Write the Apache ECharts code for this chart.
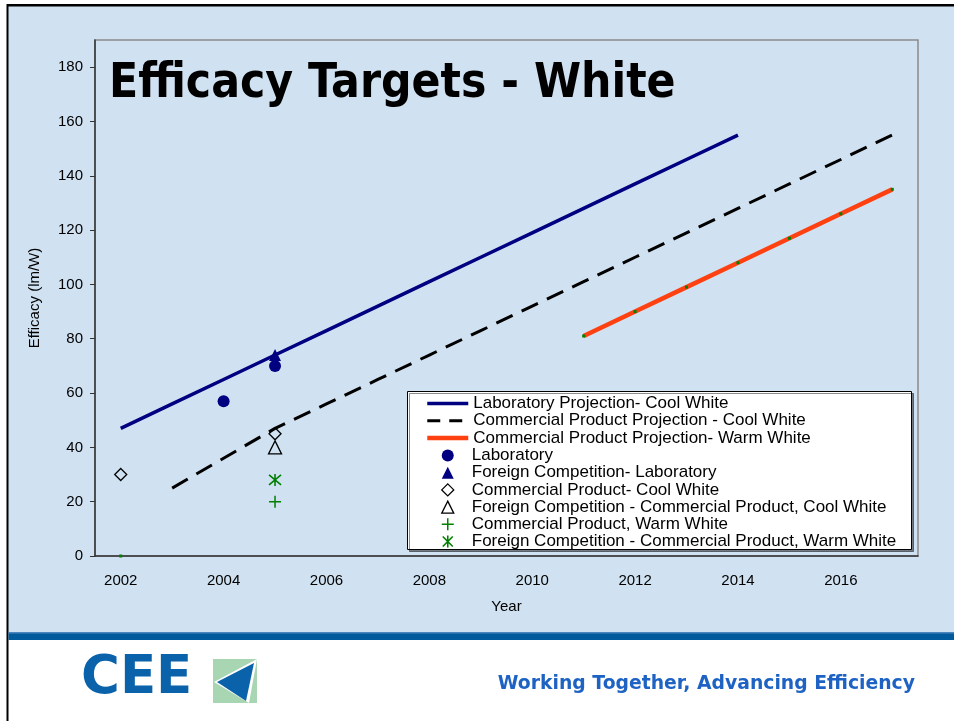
<!DOCTYPE html>
<html>
<head>
<meta charset="utf-8">
<script src="https://cdn.jsdelivr.net/npm/echarts@6/dist/echarts.min.js"></script>
<style>
html,body{margin:0;padding:0;background:#fff;}
#chart{width:954px;height:721px;}
</style>
</head>
<body>
<div id="chart"></div>
<script>
// ---- data ----
const years = ['2002','2003','2004','2005','2006','2007','2008','2009','2010','2011','2012','2013','2014','2015','2016','2017'];
const yTicks = [0,20,40,60,80,100,120,140,160,180];
const labProjectionCool = [47,56,65,74,83,92,101,110,119,128,137,146,155,'-','-','-'];
const commProjectionCool = ['-',25,36,47,56,65,74,83,92,101,110,119,128,137,146,155];
const commProjectionWarm = [0,'-','-','-','-','-','-','-','-',81,90,99,108,117,126,135];
const laboratory = [['2004',57],['2005',70]];
const foreignLab = [['2005',74]];
const commCool = [['2002',30],['2005',45]];
const foreignCommCool = [['2005',40]];
const commWarm = [['2005',20]];
const foreignCommWarm = [['2005',28]];
const names = [
  'Laboratory Projection- Cool White',
  'Commercial Product Projection - Cool White',
  'Commercial Product Projection- Warm White',
  'Laboratory',
  'Foreign Competition- Laboratory',
  'Commercial Product- Cool White',
  'Foreign Competition - Commercial Product, Cool White',
  'Commercial Product, Warm White',
  'Foreign Competition - Commercial Product, Warm White'
];
const titleText = 'Efficacy Targets - White';

// ---- styling ----
const NAVY = '#000080', GREEN = '#008000', ORANGE = '#FF4010';
const FONT = '"Liberation Sans", Arial, sans-serif';
const plusPath = 'path://M6,0V12M0,6H12';
const starPath = 'path://M6,0V12M1,1L11,11M11,1L1,11';
const clear = 'rgba(0,0,0,0)';

const chart = echarts.init(document.getElementById('chart'), null, {renderer:'canvas'});

const option = {
  backgroundColor: '#ffffff',
  animation: false,
  title: {
    text: titleText,
    left: 104, top: 56,
    textStyle: {fontFamily: '"DejaVu Sans Condensed", "DejaVu Sans", Verdana, sans-serif', fontWeight: 'bold', fontSize: 47.5, color: '#000'}
  },
  graphic: [
    {type:'rect', z:-10, shape:{x:8,y:6,width:946,height:627}, style:{fill:'#D0E1F1'}},
    {type:'rect', z:-9, shape:{x:7,y:4,width:947,height:2.5}, style:{fill:'#000'}},
    {type:'rect', z:-9, shape:{x:6.5,y:4,width:2,height:717}, style:{fill:'#000'}},
    {type:'rect', z:-9, shape:{x:8.5,y:632,width:946,height:8}, style:{fill:'#005A9C'}},
    {type:'rect', z:-9, shape:{x:8.5,y:632,width:946,height:1.5}, style:{fill:'#4A86BD'}},
    // logo
    {type:'text', z:-8, x:81, y:679, style:{text:'CEE', font:'bold 53px "DejaVu Sans", sans-serif', fill:'#0A63AA', textVerticalAlign:'middle'}},
    {type:'rect', z:-8, shape:{x:213,y:659,width:44,height:44}, style:{fill:'#A9D6B2'}},
    {type:'polygon', z:-8, shape:{points:[[214,682],[257,659],[249,703]]}, style:{fill:'#ffffff'}},
    {type:'polygon', z:-8, shape:{points:[[217,682],[254,663],[246,701]]}, style:{fill:'#0A63AA'}},
    {type:'text', z:-8, x:915, y:684, style:{text:'Working Together, Advancing Efficiency', font:'bold 18.8px "DejaVu Sans", Verdana, sans-serif', fill:'#1E63C4', textAlign:'right', textVerticalAlign:'middle'}},
    // legend box
    {type:'rect', z:3, shape:{x:407.5,y:391.5,width:504,height:158}, style:{fill:'#ffffff', stroke:'#000', lineWidth:1, shadowColor:'rgba(0,0,0,0.45)', shadowOffsetX:2, shadowOffsetY:2, shadowBlur:0}}
  ],
  grid: {left:95, right:36, top:40, bottom:165, show:true, borderColor:'#8a8a8a', borderWidth:1.5, backgroundColor:'transparent'},
  legend: [
    {
      orient:'vertical', left:425, top:395, padding:0, itemWidth:41, itemHeight:12, itemGap:0.2,
      selectedMode:false,
      textStyle:{fontFamily:FONT, fontSize:17, color:'#000'},
      data:[
        {name:names[0], itemStyle:{color:clear, borderWidth:0}, lineStyle:{width:3.5}},
        {name:names[1], itemStyle:{color:clear, borderWidth:0}, lineStyle:{width:3, type:[13,9]}},
        {name:names[2], itemStyle:{color:clear, borderWidth:0}, lineStyle:{width:4.5}}
      ]
    },
    {
      orient:'vertical', left:441, top:447, padding:0, itemWidth:12, itemHeight:12, itemGap:0.2,
      selectedMode:false,
      textStyle:{fontFamily:FONT, fontSize:17, color:'#000', padding:[0,0,0,13]},
      data:[
        {name:names[3], icon:'circle', itemStyle:{color:NAVY, borderWidth:0, opacity:1}},
        {name:names[4], icon:'triangle', itemStyle:{color:NAVY, borderWidth:0, opacity:1}},
        {name:names[5], icon:'diamond', itemStyle:{color:clear, borderColor:'#000', borderWidth:1.3, opacity:1}},
        {name:names[6], icon:'triangle', itemStyle:{color:clear, borderColor:'#000', borderWidth:1.3, opacity:1}},
        {name:names[7], icon:plusPath, itemStyle:{color:clear, borderColor:GREEN, borderWidth:1.5, opacity:1}},
        {name:names[8], icon:starPath, itemStyle:{color:clear, borderColor:GREEN, borderWidth:1.6, opacity:1}}
      ]
    }
  ],
  xAxis: {
    type:'category', data:years, boundaryGap:true,
    axisLine:{lineStyle:{color:'#333', width:1.5}},
    axisTick:{interval:0, length:5, lineStyle:{color:'#333', width:1}},
    axisLabel:{interval:1, margin:17, fontFamily:FONT, fontSize:15, color:'#000'},
    splitLine:{show:false},
    name:'Year', nameLocation:'middle', nameGap:43,
    nameTextStyle:{fontFamily:FONT, fontSize:15, color:'#000'}
  },
  yAxis: {
    type:'value', min:0, max:190, interval:20,
    axisLine:{show:true, lineStyle:{color:'#333', width:1.5}},
    axisTick:{show:true, length:5, customValues:yTicks, lineStyle:{color:'#333', width:1}},
    axisLabel:{margin:12, customValues:yTicks, fontFamily:FONT, fontSize:15, color:'#000'},
    splitLine:{show:false},
    name:'Efficacy (lm/W)', nameLocation:'middle', nameGap:53,
    nameTextStyle:{fontFamily:FONT, fontSize:15, color:'#000'}
  },
  series: [
    {name:names[0], type:'line', data:labProjectionCool, symbol:'none', connectNulls:false,
     lineStyle:{color:NAVY, width:3.5}, itemStyle:{color:NAVY}, z:2},
    {name:names[1], type:'line', data:commProjectionCool, symbol:'none',
     lineStyle:{color:'#000', width:3, type:[18,10]}, itemStyle:{color:'#000'}, z:2},
    {name:names[2], type:'line', data:commProjectionWarm, symbol:'rect', symbolSize:3, showSymbol:true, connectNulls:false,
     lineStyle:{color:ORANGE, width:4.5}, itemStyle:{color:GREEN}, z:2},
    {name:names[3], type:'scatter', data:laboratory, symbol:'circle', symbolSize:12, itemStyle:{color:NAVY, opacity:1}, z:3},
    {name:names[4], type:'scatter', data:foreignLab, symbol:'triangle', symbolSize:12, itemStyle:{color:NAVY, opacity:1}, z:3},
    {name:names[5], type:'scatter', data:commCool, symbol:'diamond', symbolSize:12, itemStyle:{color:clear, borderColor:'#000', borderWidth:1.3, opacity:1}, z:3},
    {name:names[6], type:'scatter', data:foreignCommCool, symbol:'triangle', symbolSize:13, itemStyle:{color:clear, borderColor:'#000', borderWidth:1.3, opacity:1}, z:3},
    {name:names[7], type:'scatter', data:commWarm, symbol:plusPath, symbolSize:12, itemStyle:{color:clear, borderColor:GREEN, borderWidth:1.5, opacity:1}, z:3},
    {name:names[8], type:'scatter', data:foreignCommWarm, symbol:starPath, symbolSize:12, itemStyle:{color:clear, borderColor:GREEN, borderWidth:1.6, opacity:1}, z:3}
  ]
};
chart.setOption(option);
</script>
</body>
</html>
